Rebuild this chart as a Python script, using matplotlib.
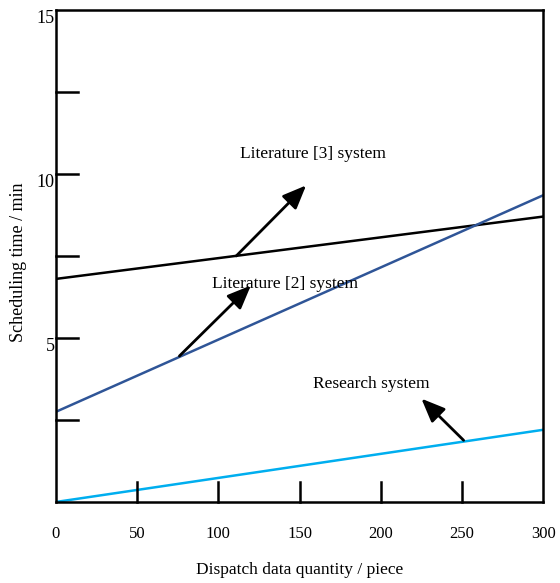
import matplotlib
matplotlib.use("Agg")
import matplotlib.pyplot as plt
import numpy as np

plt.rcParams['font.family'] = ['Liberation Serif', 'DejaVu Serif']

# data (start and end of each straight line)
x = [0, 300]
lit3 = [6.8, 8.7]
lit2 = [2.75, 9.35]
research = [0.0, 2.2]

xticks_lab = [0, 50, 100, 150, 200, 250, 300]
xticks_in = [50, 100, 150, 200, 250]
yticks_in = [2.5, 5, 7.5, 10, 12.5]
yticks_lab = [5, 10, 15]

# annotations: (text, text pos, arrow tail, arrow head)
notes = [
    ("Literature [3] system", (158, 10.6), (111, 7.5), (154, 9.65)),
    ("Literature [2] system", (141, 6.65), (76, 4.45), (120, 6.6)),
    ("Research system", (194, 3.6), (251, 1.88), (225, 3.15)),
]

fig = plt.figure(figsize=(5.6, 5.83), dpi=100)
ax = fig.add_axes([0.1, 0.139, 0.87, 0.844])

ax.plot(x, lit3, color='black', lw=1.8)
ax.plot(x, lit2, color='#2f5597', lw=1.8)
ax.plot(x, research, color='#00aeef', lw=1.8)

for txt, tpos, tail, head in notes:
    ax.text(tpos[0], tpos[1], txt, fontsize=12.5, ha='center', va='center')
    ax.annotate("", xy=head, xytext=tail,
                arrowprops=dict(arrowstyle='-|>,head_length=0.6,head_width=0.25',
                                color='black', lw=2,
                                mutation_scale=24, shrinkA=0, shrinkB=0))

ax.set_xlim(0, 300)
ax.set_ylim(0, 15)

# inward ticks without labels, drawn as short lines
for yv in yticks_in:
    ax.plot([0, 13.5], [yv, yv], color='black', lw=1.8, clip_on=False)
for xv in xticks_in:
    ax.plot([xv, xv], [0, 0.62], color='black', lw=1.8, clip_on=False)

ax.set_xticks(xticks_lab)
ax.set_xticklabels([str(v) for v in xticks_lab], fontsize=12)
ax.tick_params(axis='x', length=0, pad=17)
ax.set_yticks(yticks_lab)
ax.set_yticklabels([str(v) for v in yticks_lab], fontsize=13, va='top')
ax.tick_params(axis='y', length=0, pad=1)

for s in ax.spines.values():
    s.set_linewidth(1.8)

ax.set_xlabel("Dispatch data quantity / piece", fontsize=12.5)
ax.xaxis.set_label_coords(0.5, -0.122)
ax.set_ylabel("Scheduling time / min", fontsize=13)
ax.yaxis.set_label_coords(-0.06, 0.488)

fig.savefig("out.png", dpi=100)
